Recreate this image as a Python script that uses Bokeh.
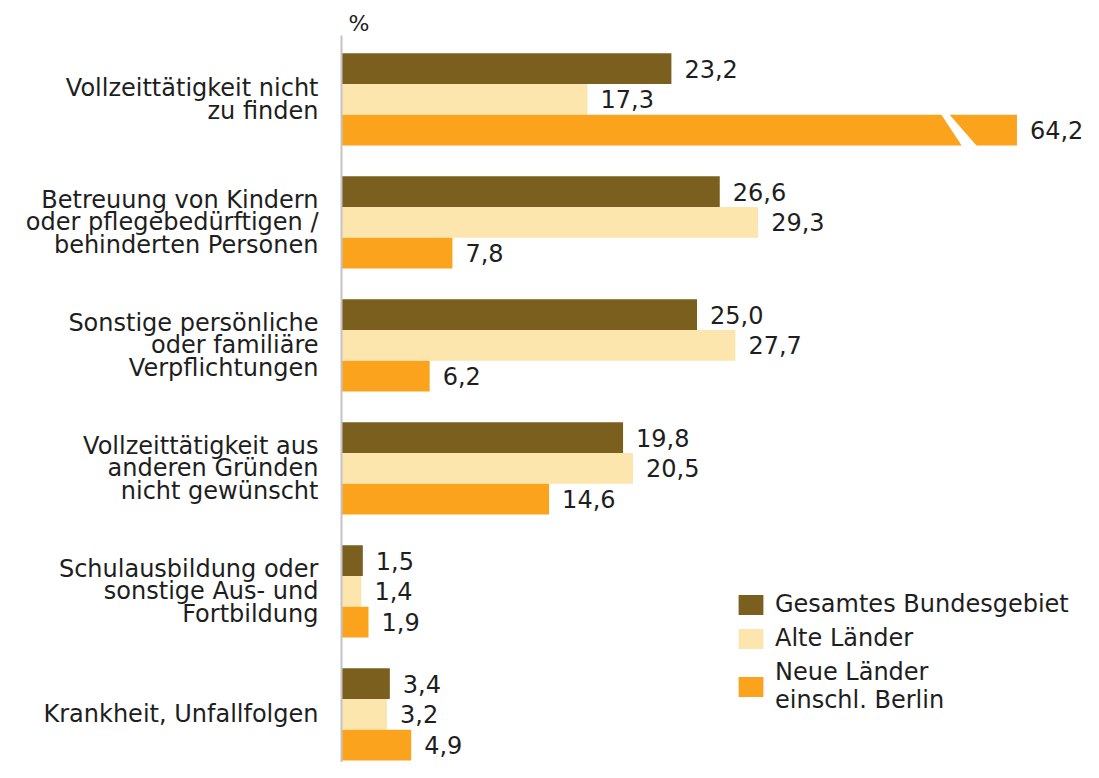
from bokeh.plotting import figure
from bokeh.models import Range1d, FixedTicker, Legend, LegendItem, Title, ColumnDataSource
from bokeh.core.properties import value
from bokeh.embed import file_html
from bokeh.resources import INLINE

categories = [
    "Vollzeittätigkeit nicht\nzu finden",
    "Betreuung von Kindern\noder pflegebedürftigen /\nbehinderten Personen",
    "Sonstige persönliche\noder familiäre\nVerpflichtungen",
    "Vollzeittätigkeit aus\nanderen Gründen\nnicht gewünscht",
    "Schulausbildung oder\nsonstige Aus- und\nFortbildung",
    "Krankheit, Unfallfolgen",
]
gesamt = [23.2, 26.6, 25.0, 19.8, 1.5, 3.4]
alte = [17.3, 29.3, 27.7, 20.5, 1.4, 3.2]
neue = [64.2, 7.8, 6.2, 14.6, 1.9, 4.9]
series_names = ["Gesamtes Bundesgebiet", "Alte Länder", "Neue Länder\neinschl. Berlin"]
colors = ["#7b5f1e", "#fde6ae", "#fba31d"]

BREAK_CAP = 47.5   # displayed length of bars beyond the axis break
BAR_H = 0.25
FONT = value("DejaVu Sans")
FS = "24px"
LH = 0.8
TXT = "#1e1e1e"

p = figure(width=1083, height=762, output_backend="svg", toolbar_location=None,
           x_range=Range1d(0, 52.18), y_range=Range1d(5.391, -0.520),
           min_border_left=341, min_border_right=0, min_border_top=35, min_border_bottom=0)
p.xaxis.visible = False
p.grid.visible = False
p.outline_line_color = None

p.title = Title(text="%", align="left", offset=7, standoff=0, text_font="DejaVu Sans",
                text_font_size="22px", text_font_style="normal", text_color=TXT)

yax = p.yaxis[0]
yax.ticker = FixedTicker(ticks=list(range(len(categories))))
yax.major_label_overrides = {i: c for i, c in enumerate(categories)}
yax.major_tick_line_color = None
yax.minor_tick_line_color = None
yax.axis_line_color = "#c4c4c4"
yax.axis_line_width = 2
yax.major_label_standoff = 17
yax.major_label_text_font = "DejaVu Sans"
yax.major_label_text_font_size = FS
yax.major_label_text_color = TXT
yax.major_label_text_line_height = LH

items = []
for k, (vals, name, col) in enumerate(zip([gesamt, alte, neue], series_names, colors)):
    off = (k - 1) * BAR_H
    ys = [i + off for i in range(len(vals))]
    shown = [min(v, BREAK_CAP) for v in vals]
    labels = [f"{v:.1f}".replace(".", ",") for v in vals]
    src = ColumnDataSource(dict(y=ys, right=shown, val=vals, lab=labels))
    r = p.hbar(y="y", left=0, right="right", height=BAR_H, source=src,
               fill_color=col, line_color=None)
    p.text(x="right", y="y", text="lab", source=src, x_offset=13,
           text_align="left", text_baseline="middle", text_font=FONT,
           text_font_size=FS, text_color=TXT)
    items.append(LegendItem(label=name, renderers=[r]))
    # axis break on truncated bars
    bx, by = [], []
    for y, v in zip(ys, vals):
        if v > BREAK_CAP:
            t, b = y - BAR_H / 2 - 0.01, y + BAR_H / 2 + 0.01
            bx.append([BREAK_CAP - 5.37, BREAK_CAP - 4.81, BREAK_CAP - 2.77, BREAK_CAP - 3.83])
            by.append([t, t, b, b])
    if bx:
        p.patches(xs=bx, ys=by, fill_color="white", line_color=None)

legend = Legend(items=items, location=(394, 48), orientation="vertical",
                glyph_width=31, glyph_height=25, label_standoff=9, spacing=6,
                padding=0, margin=0, border_line_color=None, background_fill_alpha=0,
                label_text_font="DejaVu Sans", label_text_font_size=FS,
                label_text_color=TXT, label_text_line_height=LH)
p.add_layout(legend)

open("out.html", "w").write(file_html(p, INLINE))
